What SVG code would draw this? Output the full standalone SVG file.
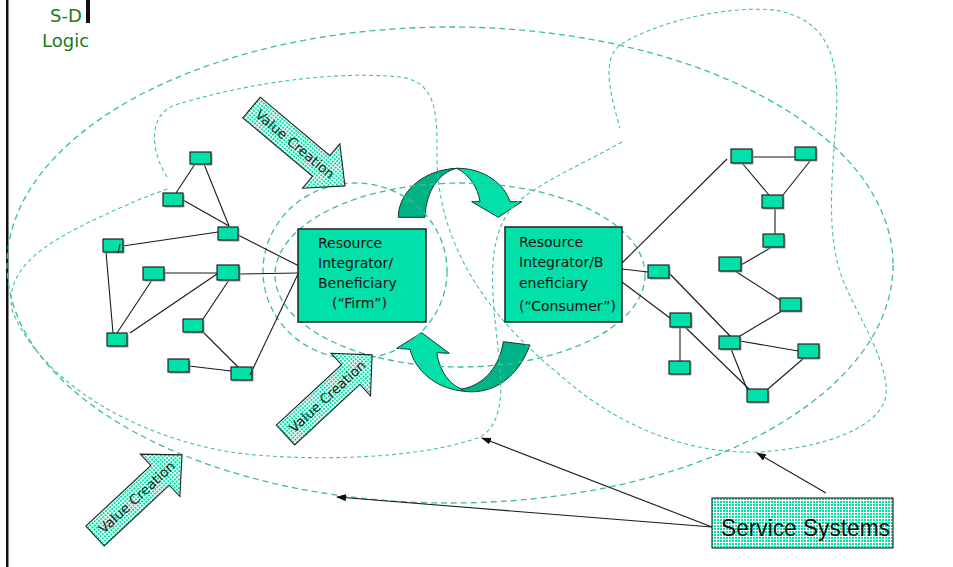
<svg xmlns="http://www.w3.org/2000/svg" width="953" height="567" viewBox="0 0 953 567">
<style>
.dA{fill:none;stroke:#3dbd9d;stroke-width:1.3;stroke-dasharray:6 4}
.dB{fill:none;stroke:#45c0a2;stroke-width:1.1;stroke-dasharray:4 3}
.n{fill:#00e0a8;stroke:#222;stroke-width:1.2}
.sh{fill:#a0a0a0}
.ln{stroke:#1a1a1a;stroke-width:1.1;fill:none}
.big{fill:#00e0a8;stroke:#222;stroke-width:1.5}
.bt{font-family:"DejaVu Sans",sans-serif;font-size:14px;fill:#111}
.va{fill:url(#dots);stroke:#222;stroke-width:1.1}
.vt{font-family:"DejaVu Sans",sans-serif;font-size:13.5px;fill:#222}
.ca1{fill:#00e0a8;stroke:#0b3b2b;stroke-width:1}
.ca2{fill:#00b386;stroke:#0b3b2b;stroke-width:1}
.sd{font-family:"DejaVu Sans",sans-serif;font-size:18px;fill:#1a7a1a}
</style>
<defs>
<pattern id="dots" width="3" height="3" patternUnits="userSpaceOnUse"><rect width="3" height="3" fill="#fff"/><rect width="2" height="2" fill="#00e0a8"/></pattern>
<marker id="ah" markerWidth="10" markerHeight="7" refX="9" refY="3.5" orient="auto" markerUnits="userSpaceOnUse"><path d="M0,0 L10,3.5 L0,7 Z" fill="#111"/></marker>
</defs>
<rect x="0" y="0" width="953" height="567" fill="#fff"/>
<rect x="6" y="0" width="2.5" height="567" fill="#111"/>
<g id="title">
<text class="sd" x="50" y="22">S-D</text>
<text class="sd" x="42" y="47">Logic</text>
<rect x="86" y="0" width="4" height="23" fill="#111"/>
</g>

<g id="cycle-arrows">
<path class="ca2" d="M398.3,217.3 C398,195 420,170 456.7,168.3 C440,172 426,190 425,217.3 Z"/>
<path class="ca1" d="M456.7,168.3 C485,168 505,185 510,201.7 L521.7,201.7 L498.3,217.3 L471.7,201.7 L480,201.7 C478,188 470,175 456.7,168.3 Z"/>
<path class="ca1" d="M410,349.3 L396.7,348.3 L421.7,332.7 L449.3,353.3 L436.7,352.7 C440,372 450,385 462,389 L462,391 C435,388 415,370 410,349.3 Z"/>
<path class="ca2" d="M462,391 C485,395 515,385 530,345 L503.3,341.7 C500,365 485,385 462,389 Z"/>
</g>

<g id="boundaries">
<ellipse class="dA" cx="450" cy="265" rx="443" ry="238"/>
<ellipse class="dA" cx="460" cy="275" rx="185" ry="92"/>
<ellipse class="dA" cx="355" cy="271" rx="92" ry="88"/>
<path class="dB" d="M167,177 C150,150 148,115 175,105 C240,85 330,70 400,77 C440,82 437,120 437,163 C440,240 480,310 560,375 C610,420 680,455 760,452 C820,448 875,430 885,400 C893,370 860,320 845,285 C825,240 832,180 836,120 C840,60 830,20 775,10 C720,5 650,25 620,45 C600,60 612,100 620,128"/>
<path class="dB" d="M622,142 C590,160 545,180 520,200 C490,225 490,270 495,320 C500,370 510,420 480,437 C420,460 300,462 230,452 C130,435 40,380 12,310 C5,270 40,245 100,217 C130,203 150,195 170,188"/>
</g>

<g id="connectors">
<path class="ln" d="M195,164 L176,193"/>
<path class="ln" d="M204,164 L229,226"/>
<path class="ln" d="M183,200 L229,226"/>
<path class="ln" d="M123,246 L218,232"/>
<path class="ln" d="M238,235 L299,266"/>
<path class="ln" d="M164,273 L217,273"/>
<path class="ln" d="M239,274 L299,273"/>
<path class="ln" d="M106,252 L113,333"/>
<path class="ln" d="M152,280 L117,333"/>
<path class="ln" d="M217,274 L130,333"/>
<path class="ln" d="M229,280 L203,319"/>
<path class="ln" d="M203,332 L238,367"/>
<path class="ln" d="M189,366 L231,371"/>
<path class="ln" d="M250,375 L298,274"/>
<path class="ln" d="M622,263 L727,159"/>
<path class="ln" d="M622,269 L648,272"/>
<path class="ln" d="M622,282 L670,318"/>
<path class="ln" d="M752,157 L795,157"/>
<path class="ln" d="M742,163 L769,195"/>
<path class="ln" d="M810,161 L783,195"/>
<path class="ln" d="M775,208 L775,234"/>
<path class="ln" d="M772,247 L741,265"/>
<path class="ln" d="M735,271 L780,300"/>
<path class="ln" d="M782,311 L740,336"/>
<path class="ln" d="M740,341 L798,351"/>
<path class="ln" d="M731,349 L747,389"/>
<path class="ln" d="M804,358 L768,389"/>
<path class="ln" d="M669,273 L731,337"/>
<path class="ln" d="M680,327 L680,361"/>
<path class="ln" d="M685,327 L749,389"/>
<path class="ln" d="M712,527 L482,438" marker-end="url(#ah)"/>
<path class="ln" d="M712,527 L337,497" marker-end="url(#ah)"/>
<path class="ln" d="M826,493 L757,453" marker-end="url(#ah)"/>
</g>

<g id="n1"><rect class="sh" x="191.5" y="153.5" width="21" height="12"/><rect class="n" x="190" y="152" width="21" height="12"/></g>
<g id="n2"><rect class="sh" x="164.5" y="194.5" width="20" height="13"/><rect class="n" x="163" y="193" width="20" height="13"/></g>
<g id="n3"><rect class="sh" x="219.5" y="228.5" width="20" height="13"/><rect class="n" x="218" y="227" width="20" height="13"/></g>
<g id="n4"><rect class="sh" x="104.5" y="240.5" width="20" height="13"/><rect class="n" x="103" y="239" width="20" height="13"/><path class="ln" d="M120,244 L118,253"/></g>
<g id="n5"><rect class="sh" x="144.5" y="268.5" width="21" height="13"/><rect class="n" x="143" y="267" width="21" height="13"/></g>
<g id="n6"><rect class="sh" x="218.5" y="266.5" width="22" height="15"/><rect class="n" x="217" y="265" width="22" height="15"/></g>
<g id="n7"><rect class="sh" x="184.5" y="320.5" width="20" height="13"/><rect class="n" x="183" y="319" width="20" height="13"/></g>
<g id="n8"><rect class="sh" x="108.5" y="334.5" width="20" height="13"/><rect class="n" x="107" y="333" width="20" height="13"/></g>
<g id="n9"><rect class="sh" x="169.5" y="360.5" width="21" height="13"/><rect class="n" x="168" y="359" width="21" height="13"/></g>
<g id="n10"><rect class="sh" x="232.5" y="368.5" width="21" height="13"/><rect class="n" x="231" y="367" width="21" height="13"/><path class="ln" d="M250,375 L252,371"/></g>

<g id="r1"><rect class="sh" x="732.5" y="150.5" width="21" height="14"/><rect class="n" x="731" y="149" width="21" height="14"/></g>
<g id="r2"><rect class="sh" x="796.5" y="148.5" width="21" height="13"/><rect class="n" x="795" y="147" width="21" height="13"/></g>
<g id="r3"><rect class="sh" x="763.5" y="196.5" width="21" height="13"/><rect class="n" x="762" y="195" width="21" height="13"/></g>
<g id="r4"><rect class="sh" x="764.5" y="235.5" width="21" height="13"/><rect class="n" x="763" y="234" width="21" height="13"/></g>
<g id="r5"><rect class="sh" x="720.5" y="258.5" width="22" height="14"/><rect class="n" x="719" y="257" width="22" height="14"/></g>
<g id="r6"><rect class="sh" x="649.5" y="266.5" width="21" height="13"/><rect class="n" x="648" y="265" width="21" height="13"/></g>
<g id="r7"><rect class="sh" x="781.5" y="299.5" width="21" height="13"/><rect class="n" x="780" y="298" width="21" height="13"/></g>
<g id="r8"><rect class="sh" x="671.5" y="314.5" width="21" height="14"/><rect class="n" x="670" y="313" width="21" height="14"/></g>
<g id="r9"><rect class="sh" x="720.5" y="337.5" width="21" height="13"/><rect class="n" x="719" y="336" width="21" height="13"/></g>
<g id="r10"><rect class="sh" x="799.5" y="345.5" width="21" height="14"/><rect class="n" x="798" y="344" width="21" height="14"/></g>
<g id="r11"><rect class="sh" x="670.5" y="362.5" width="21" height="13"/><rect class="n" x="669" y="361" width="21" height="13"/></g>
<g id="r12"><rect class="sh" x="748.5" y="390.5" width="21" height="13"/><rect class="n" x="747" y="389" width="21" height="13"/></g>

<g id="firm">
<rect class="big" x="298" y="229" width="128" height="93"/>
<text class="bt" x="318" y="248">Resource</text>
<text class="bt" x="318" y="268">Integrator/</text>
<text class="bt" x="318" y="288">Beneficiary</text>
<text class="bt" x="332" y="308">(“Firm”)</text>
</g>
<g id="consumer">
<rect class="big" x="505" y="227" width="117" height="95"/>
<text class="bt" x="519" y="247">Resource</text>
<text class="bt" x="519" y="267">Integrator/B</text>
<text class="bt" x="519" y="288">eneficiary</text>
<text class="bt" x="519" y="311">(“Consumer”)</text>
</g>

<g id="vc1" transform="translate(251.5,107.5) rotate(40)">
<path class="va" d="M0,-13.5 H91 V-29 L122,0 L91,29 V13.5 H0 Z"/>
<text class="vt" x="57" y="0" text-anchor="middle" dominant-baseline="central">Value Creation</text>
</g>
<g id="vc2" transform="translate(285.5,435) rotate(-42.8)">
<path class="va" d="M0,-13.5 H89 V-29 L118,0 L89,29 V13.5 H0 Z"/>
<text class="vt" x="57" y="0" text-anchor="middle" dominant-baseline="central">Value Creation</text>
</g>
<g id="vc3" transform="translate(95,536) rotate(-43)">
<path class="va" d="M0,-13.5 H89 V-29 L119,0 L89,29 V13.5 H0 Z"/>
<text class="vt" x="57" y="0" text-anchor="middle" dominant-baseline="central">Value Creation</text>
</g>

<g id="service-systems">
<rect class="va" x="712" y="498" width="181" height="50"/>
<text x="721" y="536" font-family="'Liberation Sans',sans-serif" font-size="24" fill="#111" textLength="169" lengthAdjust="spacingAndGlyphs">Service Systems</text>
</g>
</svg>
